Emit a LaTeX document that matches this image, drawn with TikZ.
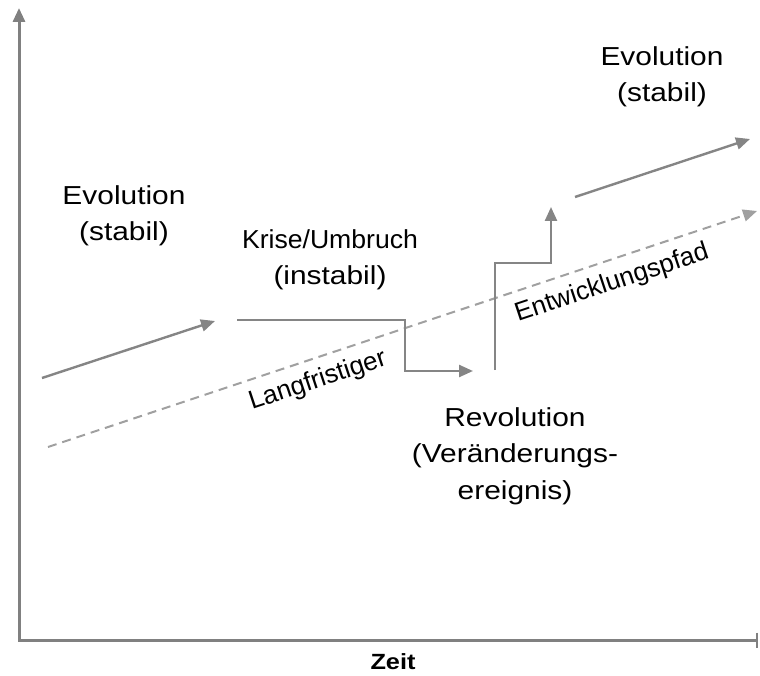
\documentclass[tikz,border=0pt]{standalone}
\usepackage{fontspec}
\setmainfont{Liberation Sans}[FakeStretch=1.15]
\newfontfamily\plainsans{Liberation Sans}
\usetikzlibrary{arrows.meta}
\definecolor{axisgray}{HTML}{808080}
\definecolor{linegray}{HTML}{858585}
\definecolor{dashgray}{HTML}{A0A0A0}
\begin{document}
\begin{tikzpicture}[x=1pt,y=-1pt,
  tip/.style={-{Triangle[length=14pt,width=12pt]}},
  evo/.style={draw=linegray, line width=2.4pt, tip},
  axisline/.style={draw=axisgray, line width=3pt, {Triangle[length=14pt,width=12pt]}-{Bar[width=15pt,line width=2pt]}},
  trend/.style={draw=dashgray, line width=2pt, dash pattern=on 9pt off 6pt, tip},
  lbl/.style={inner sep=0pt, align=center, font=\fontsize{26}{36.5}\selectfont},
  rlbl/.style={inner sep=0pt, anchor=base west, rotate=18.4, font=\plainsans\fontsize{26}{30}\selectfont},
  axlbl/.style={inner sep=0pt, anchor=base, font=\fontsize{22}{26}\selectfont\bfseries}]
\useasboundingbox (0,0) rectangle (760,676);
% axes
\coordinate (ytop) at (19,8);
\coordinate (origin) at (19,640);
\coordinate (xend) at (758,640);
\draw[axisline] (ytop) -- (origin) -- (xend);
\node[axlbl] (zeit) at (393,669) {Zeit};
% trend line
\coordinate (t1) at (48,447);
\coordinate (t2) at (757,211);
\draw[trend] (t1) -- (t2);
% evolution 1
\coordinate (e1a) at (42,378);
\coordinate (e1b) at (215,321);
\draw[evo] (e1a) -- (e1b);
% crisis
\coordinate (k1) at (237,320);
\coordinate (k2) at (405,320);
\coordinate (k3) at (405,371);
\coordinate (k4) at (473,371);
\draw[evo] (k1) -- (k2) -- (k3) -- (k4);
% revolution
\coordinate (r1) at (495,370);
\coordinate (r2) at (495,263);
\coordinate (r3) at (551,263);
\coordinate (r4) at (551,207);
\draw[evo] (r1) -- (r2) -- (r3) -- (r4);
% evolution 2
\coordinate (e2a) at (575,197);
\coordinate (e2b) at (750,139);
\draw[evo] (e2a) -- (e2b);
% labels
\node[lbl] (evoL) at (124,216) {Evolution\\(stabil)};
\node[lbl] (evoR) at (662,77) {Evolution\\(stabil)};
\node[lbl] (krise) at (330,260) {\scalebox{0.89}[1]{Krise/Umbruch}\\(instabil)};
\node[lbl] (revo) at (515,456) {Revolution\\(Veränderungs-\\ereignis)};
\node[rlbl] (lang) at (252,410) {Langfristiger};
\node[rlbl] (entw) at (518,322) {Entwicklungspfad};
\end{tikzpicture}
\end{document}
